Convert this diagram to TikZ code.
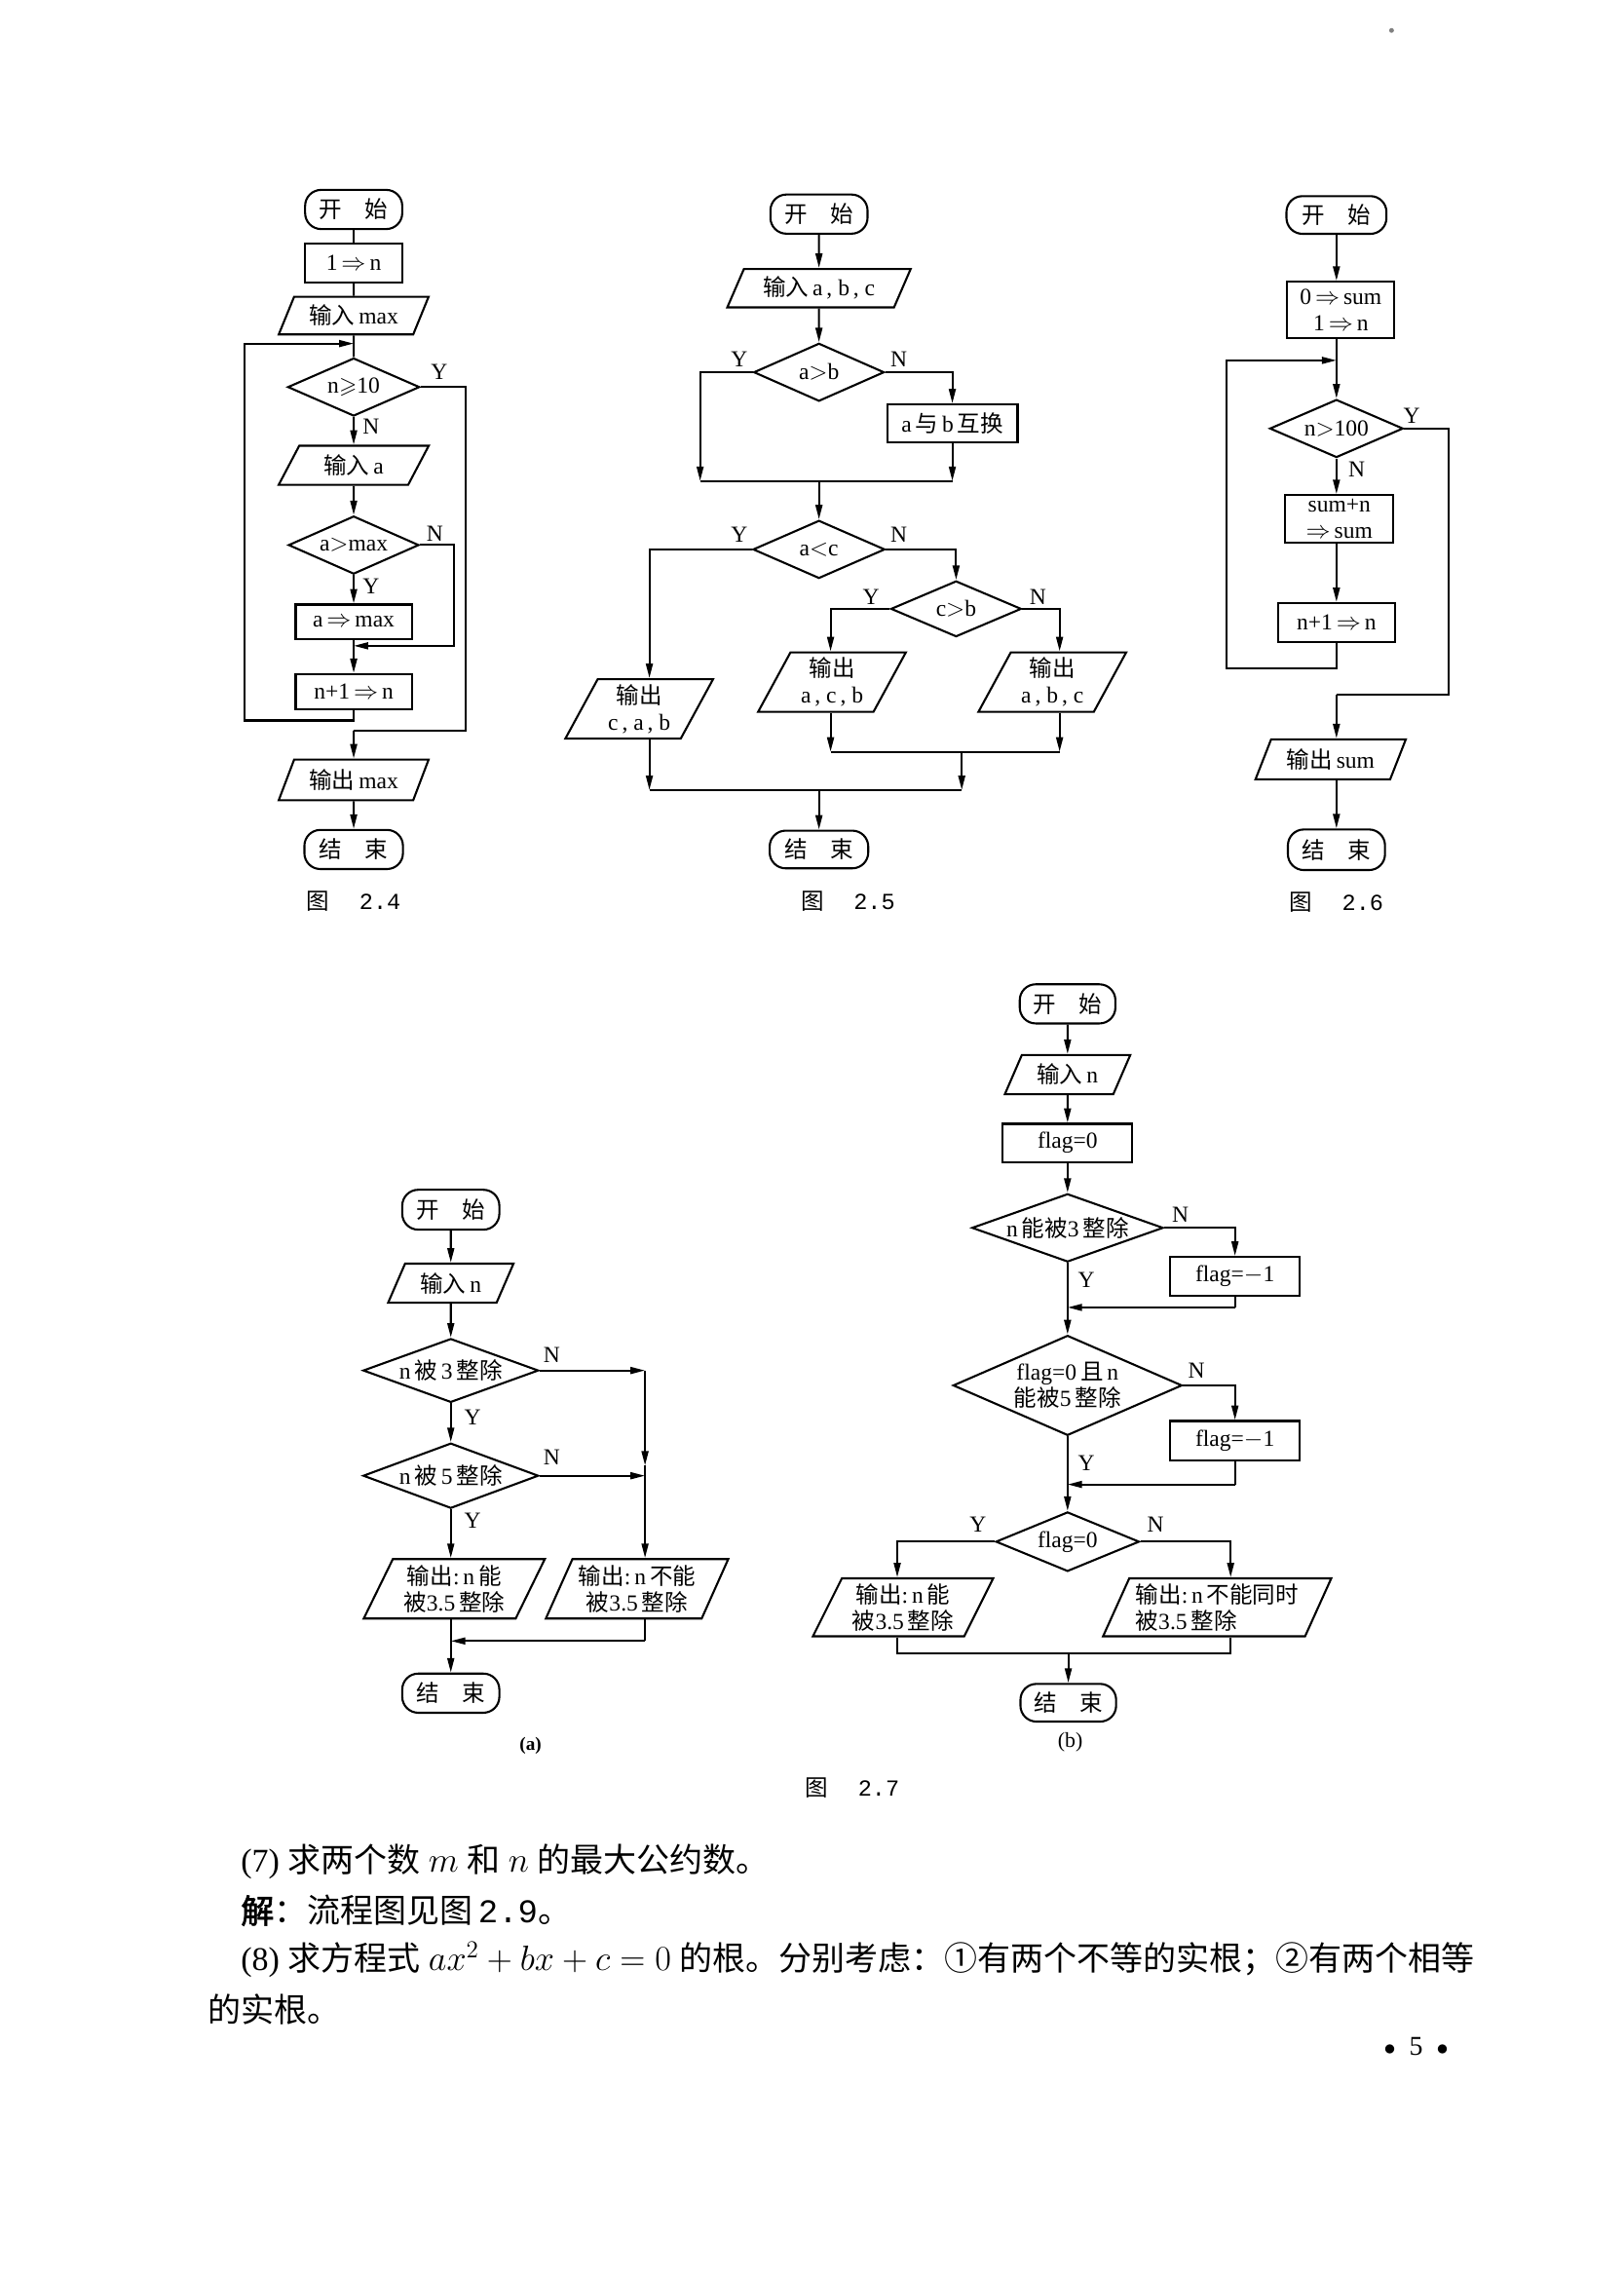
\documentclass[tikz,border=0pt]{standalone}
\usepackage{amssymb}
\usepackage{fontspec}
\setmainfont{Liberation Serif}
\newfontfamily\cjk[AutoFakeBold=2]{Noto Sans CJK SC}
\newfontfamily\mono{Liberation Mono}
\usetikzlibrary{shapes.geometric,arrows.meta}
\newcommand\fs{\fontsize{13.5}{15.5}\selectfont}
\newcommand\bfs{\fontsize{19.5}{24}\selectfont}
\newcommand\capfs{\fontsize{13.5}{16}\selectfont}
\newcommand\C[1]{{\cjk #1}}
\newcommand\To{$\Rightarrow$}
\begin{document}
\begin{tikzpicture}[x=0.03cm, y=-0.03cm,
  base/.style={draw, line width=1.2pt, font=\fs, inner sep=1pt, align=center},
  term/.style={base, rectangle, rounded corners=0.33cm},
  proc/.style={base, rectangle},
  io/.style={base, trapezium, trapezium left angle=64, trapezium right angle=116, trapezium stretches=true},
  dec/.style={base, diamond, inner sep=0pt},
  bw/.style={minimum width=#1*0.03cm},
  bh/.style={minimum height=#1*0.03cm},
  asp/.style={aspect=#1},
  ln/.style={line width=1.2pt},
  ar/.style={line width=1.2pt, -{Triangle[length=0.3cm, width=0.14cm]}},
  lab/.style={font=\fs, inner sep=0pt},
  capt/.style={font=\capfs, inner sep=0pt},
  body/.style={font=\bfs, inner sep=0pt, anchor=west}
]
\fill[white] (0,0) rectangle (1120,1568);
\useasboundingbox (0,0) rectangle (1120,1568);
\fill[gray] (960,21) circle[radius=0.05cm];

% ---------------- Fig 2.4 ----------------
\node[term,bw=67,bh=27] (s4) at (244,144.5) {\C{开\hspace{1em}始}};
\node[proc,bw=67,bh=27] (p4a) at (244,181.5) {1\,\To\,n};
\node[io,bw=104,bh=26] (i4a) at (244,217.7) {\C{输入}\,max};
\coordinate (j4a) at (244,237);
\node[dec,bw=91,bh=40,asp=2.27] (d4a) at (244,267) {n$\geqslant$10};
\node[lab] at (303,256.6) {Y};
\node[lab] at (256,294) {N};
\node[io,bw=104,bh=27] (i4b) at (244,321) {\C{输入}\,a};
\node[dec,bw=90,bh=40,asp=2.25] (d4b) at (244,376) {a$>$max};
\node[lab] at (300,368) {N};
\node[lab] at (256,404.5) {Y};
\node[proc,bw=80,bh=24] (p4b) at (244,429) {a\,\To\,max};
\coordinate (j4b) at (244,445.5);
\node[proc,bw=80,bh=24] (p4c) at (244,477) {n+1\,\To\,n};
\node[io,bw=104,bh=28] (i4c) at (244,538) {\C{输出}\,max};
\node[term,bw=68,bh=27] (e4) at (244,586) {\C{结\hspace{1em}束}};
\node[capt] (c4) at (244,622) {\C{图}\hspace{1.3em}{\mono 2.4}};

\draw[ln] (s4) -- (p4a);
\draw[ln] (p4a) -- (i4a);
\draw[ln] (i4a) -- (j4a) -- (d4a);
\draw[ar] (d4a) -- (i4b);
\draw[ar] (i4b) -- (d4b);
\draw[ar] (d4b) -- (p4b);
\draw[ln] (p4b) -- (j4b);
\draw[ar] (j4b) -- (p4c);
\coordinate (r4b) at (313,445.5);
\draw[ar] (d4b.east) -| (r4b) -- (j4b);
\coordinate (l4) at (168.6,497);
\draw[ar] (p4c.south) |- (l4) |- (j4a);
\coordinate (r4a) at (321,504);
\coordinate (k4) at (244,504);
\draw[ln] (d4a.east) -| (r4a) -- (k4);
\draw[ar] (k4) -- (i4c);
\draw[ar] (i4c) -- (e4);

% ---------------- Fig 2.5 ----------------
\node[term,bw=67,bh=27] (s5) at (565,147.7) {\C{开\hspace{1em}始}};
\node[io,bw=127,bh=26.5] (i5a) at (565,198.8) {\C{输入}\,a\,,\ b\,,\ c};
\node[dec,bw=90,bh=40,asp=2.25] (d5a) at (565,256.8) {a$>$b};
\node[lab] at (510,248) {Y};
\node[lab] at (620,248) {N};
\node[proc,bw=90,bh=26.4] (p5) at (657,292.2) {a\,\C{与}\,b\,\C{互换}};
\coordinate (m5l) at (483,331.8);
\coordinate (m5r) at (657,331.8);
\coordinate (m5c) at (565,331.8);
\node[dec,bw=91,bh=40,asp=2.27] (d5b) at (565,379) {a$<$c};
\node[lab] at (510,369) {Y};
\node[lab] at (620,369) {N};
\node[dec,bw=90,bh=38.5,asp=2.34] (d5c) at (659.6,420) {c$>$b};
\node[lab] at (601,412) {Y};
\node[lab] at (716,412) {N};
\node[io,bw=102,bh=41] (i5b) at (441,489) {\C{输出}\\c\,,\ a\,,\ b};
\node[io,bw=102,bh=41] (i5c) at (574,470.5) {\C{输出}\\a\,,\ c\,,\ b};
\node[io,bw=102,bh=41] (i5d) at (726,470.5) {\C{输出}\\a\,,\ b\,,\ c};
\coordinate (x5b) at (448,0);
\coordinate (x5c) at (573,0);
\coordinate (x5d) at (731,0);
\coordinate (m5a) at (573,518.6);
\coordinate (m5b) at (731,518.6);
\coordinate (m5d) at (663.5,518.6);
\coordinate (n5a) at (448,545);
\coordinate (n5b) at (663.5,545);
\coordinate (n5c) at (565,545);
\node[term,bw=68,bh=26] (e5) at (565,586) {\C{结\hspace{1em}束}};
\node[capt] (c5) at (585,622) {\C{图}\hspace{1.3em}{\mono 2.5}};

\draw[ar] (s5) -- (i5a);
\draw[ar] (i5a) -- (d5a);
\draw[ar] (d5a.west) -| (m5l);
\draw[ar] (d5a.east) -| (p5.north);
\draw[ar] (p5.south) -- (m5r);
\draw[ln] (m5l) -- (m5r);
\draw[ar] (m5c) -- (d5b.north);
\draw[ar] (d5b.west) -| (i5b.north -| x5b);
\draw[ar] (d5b.east) -| (d5c.north);
\draw[ar] (d5c.west) -| (i5c.north -| x5c);
\draw[ar] (d5c.east) -| (i5d.north -| x5d);
\draw[ar] (i5c.south -| x5c) -- (m5a);
\draw[ar] (i5d.south -| x5d) -- (m5b);
\draw[ln] (m5a) -- (m5b);
\draw[ar] (m5d) -- (n5b);
\draw[ar] (i5b.south -| x5b) -- (n5a);
\draw[ln] (n5a) -- (n5b);
\draw[ar] (n5c) -- (e5);

% ---------------- Fig 2.6 ----------------
\node[term,bw=69,bh=26] (s6) at (922,148.3) {\C{开\hspace{1em}始}};
\node[proc,bw=74,bh=38.6] (p6a) at (925,213.7) {0\,\To\,sum\\1\,\To\,n};
\coordinate (j6) at (922,248.6);
\node[dec,bw=92,bh=40,asp=2.3] (d6) at (922,295.6) {n$>$100};
\node[lab] at (974,286.7) {Y};
\node[lab] at (936,323.6) {N};
\node[proc,bw=74.6,bh=32.5] (p6b) at (924,357.8) {sum+n\\\To\,sum};
\node[proc,bw=80.6,bh=27] (p6c) at (922,429.5) {n+1\,\To\,n};
\node[io,bw=104,bh=27.5] (i6) at (918,523.8) {\C{输出}\,sum};
\node[term,bw=67,bh=28] (e6) at (922,586.2) {\C{结\hspace{1em}束}};
\node[capt] (c6) at (922,622.6) {\C{图}\hspace{1.3em}{\mono 2.6}};
\coordinate (l6) at (846,461.3);
\coordinate (r6) at (999.3,479.3);
\coordinate (k6) at (922,479.3);

\draw[ar] (s6) -- (p6a.north -| s6);
\draw[ln] (p6a.south -| j6) -- (j6);
\draw[ar] (j6) -- (d6);
\draw[ar] (d6) -- (p6b.north -| d6);
\draw[ar] (p6b.south -| d6) -- (p6c);
\draw[ar] (p6c.south) |- (l6) |- (j6);
\draw[ln] (d6.east) -| (r6) -- (k6);
\draw[ar] (k6) -- (i6.north -| k6);
\draw[ar] (i6.south -| k6) -- (e6.north);

% ---------------- Fig 2.7 (a) ----------------
\node[term,bw=67,bh=27.5] (s7a) at (311,834.5) {\C{开\hspace{1em}始}};
\node[io,bw=87,bh=27] (i7a) at (311,885.2) {\C{输入}\,n};
\node[dec,bw=121,bh=44,asp=2.75] (d7a) at (311,945.4) {n\,\C{被}\,3\,\C{整除}};
\node[lab] at (380.7,935) {N};
\node[lab] at (326,977.5) {Y};
\node[dec,bw=121,bh=45,asp=2.69] (d7b) at (311,1018) {n\,\C{被}\,5\,\C{整除}};
\node[lab] at (380.7,1005.6) {N};
\node[lab] at (326,1049) {Y};
\node[io,bw=125,bh=41] (i7b) at (313.4,1096) {\C{输出}:\,n\,\C{能}\\\C{被}3.5\,\C{整除}};
\node[io,bw=127,bh=41] (i7c) at (439.5,1096) {\C{输出}:\,n\,\C{不能}\\\C{被}3.5\,\C{整除}};
\node[term,bw=67,bh=27] (e7a) at (311,1168) {\C{结\hspace{1em}束}};
\node[lab,font=\fontsize{11}{13}\selectfont\bfseries] (ta) at (366,1204) {(a)};
\coordinate (r7a) at (445,945.4);
\coordinate (r7b) at (445,1011);
\coordinate (r7c) at (445,1018);
\coordinate (m7a) at (445,1132);
\coordinate (m7b) at (311,1132);

\draw[ar] (s7a) -- (i7a);
\draw[ar] (i7a) -- (d7a);
\draw[ar] (d7a) -- (d7b);
\draw[ar] (d7a.east) -- (r7a);
\draw[ar] (r7a) -- (r7b);
\draw[ln] (r7b) -- (r7c);
\draw[ar] (d7b.east) -- (r7c);
\draw[ar] (r7c) -- (i7c.north -| r7c);
\draw[ar] (d7b.south) -- (i7b.north -| d7b.south);
\draw[ln] (i7c.south -| r7c) -- (m7a);
\draw[ar] (m7a) -- (m7b);
\draw[ar] (i7b.south -| m7b) -- (e7a.north);

% ---------------- Fig 2.7 (b) ----------------
\node[term,bw=66,bh=27] (s7b) at (736.5,692.5) {\C{开\hspace{1em}始}};
\node[io,bw=87,bh=27] (i7d) at (736.5,741.3) {\C{输入}\,n};
\node[proc,bw=89.4,bh=26.5] (p7a) at (736.5,788.5) {flag=0};
\node[dec,bw=132,bh=47,asp=2.8] (d7c) at (736.5,847) {n\,\C{能被}3\,\C{整除}};
\node[lab] at (814.4,838) {N};
\node[lab] at (749.5,883) {Y};
\node[proc,bw=89.5,bh=27] (p7b) at (852,880.6) {flag=$-$1};
\coordinate (m7c) at (852,901.9);
\coordinate (m7d) at (736.5,901.9);
\node[dec,bw=158,bh=69,asp=2.29] (d7d) at (736.5,955.7) {flag=0\,\C{且}\,n\\\C{能被}5\,\C{整除}};
\node[lab] at (825.4,945.6) {N};
\node[lab] at (749.5,1009.4) {Y};
\node[proc,bw=89.5,bh=27.5] (p7c) at (852,994) {flag=$-$1};
\coordinate (m7e) at (852,1024);
\coordinate (m7f) at (736.5,1024);
\node[dec,bw=99,bh=41,asp=2.41] (d7e) at (736.5,1063.5) {flag=0};
\node[lab] at (674.7,1052) {Y};
\node[lab] at (797.2,1052) {N};
\node[io,bw=124.5,bh=40] (i7e) at (623,1108.8) {\C{输出}:\,n\,\C{能}\\\C{被}3.5\,\C{整除}};
\node[io,bw=157.5,bh=40,align=left] (i7f) at (839.7,1108.8) {\C{输出}:\,n\,\C{不能同时}\\\C{被}3.5\,\C{整除}};
\coordinate (x7e) at (619,0);
\coordinate (x7f) at (849,0);
\coordinate (m7g) at (619,1140.4);
\coordinate (m7h) at (849,1140.4);
\coordinate (m7i) at (737,1140.4);
\node[term,bw=66,bh=26] (e7b) at (737,1174.6) {\C{结\hspace{1em}束}};
\node[lab,font=\fontsize{12.5}{14}\selectfont] (tb) at (738.4,1202) {(b)};
\node[capt] (c7) at (588,1233.4) {\C{图}\hspace{1.3em}{\mono 2.7}};

\draw[ar] (s7b) -- (i7d);
\draw[ar] (i7d) -- (p7a);
\draw[ar] (p7a) -- (d7c);
\draw[ar] (d7c.east) -| (p7b.north);
\draw[ln] (p7b.south) -- (m7c);
\draw[ar] (m7c) -- (m7d);
\draw[ln] (d7c.south) -- (m7d);
\draw[ar] (m7d) -- (d7d.north);
\draw[ar] (d7d.east) -| (p7c.north);
\draw[ln] (p7c.south) -- (m7e);
\draw[ar] (m7e) -- (m7f);
\draw[ln] (d7d.south) -- (m7f);
\draw[ar] (m7f) -- (d7e.north);
\draw[ar] (d7e.west) -| (i7e.north -| x7e);
\draw[ar] (d7e.east) -| (i7f.north -| x7f);
\draw[ln] (i7e.south -| x7e) -- (m7g) -- (m7h) -- (i7f.south -| x7f);
\draw[ar] (m7i) -- (e7b.north);

% ---------------- Text ----------------
\node[body] (t1) at (166,1284) {(7) \C{求两个数} $m$ \C{和} $n$ \C{的最大公约数。}};
\node[body] (t2) at (166,1318) {{\cjk\bfseries 解}\C{：流程图见图}\,{\mono 2.9}\C{。}};
\node[body] (t3) at (166,1352) {(8) \C{求方程式} $ax^2+bx+c=0$ \C{的根。分别考虑：①有两个不等的实根；②有两个相等}};
\node[body] (t4) at (143,1386) {\C{的实根。}};
\node[inner sep=0pt, font=\fontsize{16}{18}\selectfont] (pg) at (977,1412) {\scalebox{0.8}{$\bullet$}\hspace{0.5em}5\hspace{0.5em}\scalebox{0.8}{$\bullet$}};
\end{tikzpicture}
\end{document}
